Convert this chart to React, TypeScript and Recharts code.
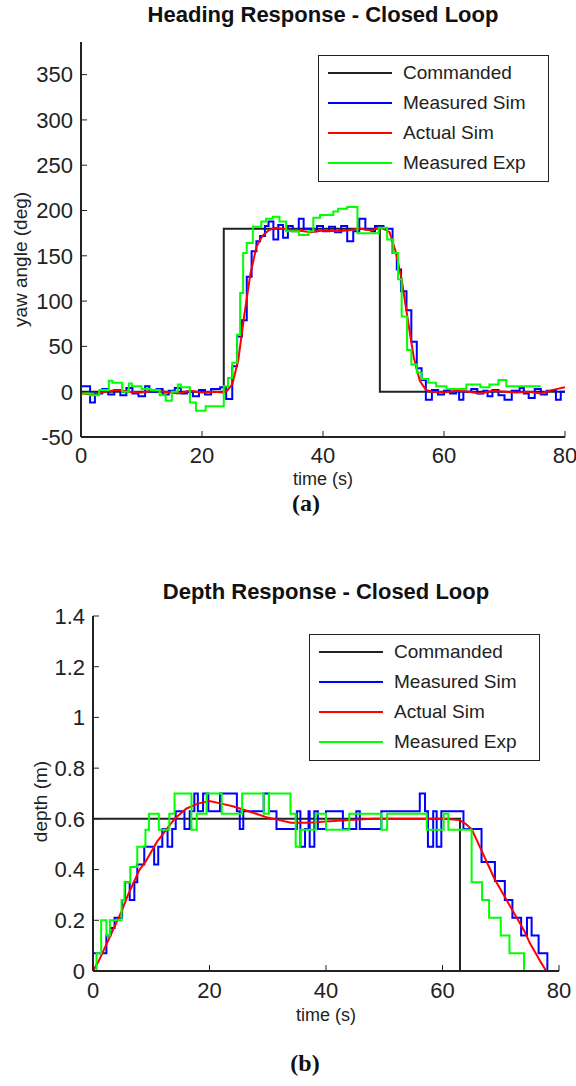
import React from 'react';
import { LineChart, Line, XAxis, YAxis, Legend, Label } from 'recharts';

const FONT = '"Liberation Sans", Arial, Helvetica, sans-serif';

// [time (s), value] pairs
const headingCommanded: [number, number][] = [
  [0, 0], [23.6, 0], [23.6, 180], [49.4, 180], [49.4, 0], [80, 0],
];
const headingMeasuredSim: [number, number][] = [
  [0, 6], [1.5, -12], [2.3, -2], [3.5, 3], [4.5, -3], [5.5, 2], [6.5, -4], [7.5, 4], [8.5, -2], [9.5, -5],
  [10.6, 6], [11.3, 0], [12.5, 3], [13.5, -3], [14.5, 1], [15.5, 4], [16.5, -2], [17.5, 0], [18.5, -5],
  [19.5, 2], [20.5, -3], [21.5, 3], [23, 5], [24, -8], [25, 28], [25.8, 61], [26.6, 79], [27.4, 127],
  [28.2, 155], [29, 166], [29.6, 172], [30.4, 183], [31, 188], [31.8, 168], [32.6, 184], [33.4, 170],
  [34.2, 183], [35, 177], [36, 191], [36.8, 180], [38, 177], [39, 183], [40, 177], [41, 182], [42, 176],
  [43, 183], [44, 166], [45, 177], [46, 191], [47, 179], [48, 177], [48.6, 183], [50, 180], [51.5, 153],
  [52.2, 135], [52.9, 111], [53.8, 90], [54.6, 55], [55.5, 26], [56.3, 13], [57, -9], [58, 2], [59, -3],
  [60, 1], [61, -2], [62, 2], [62.5, -9], [63.2, 0], [64.5, 3], [65.5, -2], [66.5, 1], [67.2, -5], [68, 2],
  [69, -4], [70, -9], [71.2, 1], [72.5, 4], [73.2, -2], [74, -7], [75, 3], [76, -3], [77, 1], [78.5, -9],
  [79.3, 0], [80, 0],
];
const headingActualSim: [number, number][] = [
  [0, -2], [2, -3], [4, 0], [6, 2], [8, 0], [10, -1], [12, 1], [14, 0], [16, -2], [18, 1], [20, -1],
  [22, 0], [23.5, -1], [24, 0], [25, 8], [26, 35], [27, 85], [28, 130], [29, 160], [30, 172], [31, 178],
  [32, 181], [34, 179], [36, 178], [38, 176], [40, 178], [42, 177], [44, 178], [46, 180], [48, 178],
  [49, 181], [50, 180], [51, 176], [52, 155], [53, 124], [54, 80], [55, 38], [56, 12], [57, 2], [58, 0],
  [60, -1], [62, 1], [64, 0], [66, -2], [68, 1], [70, 0], [72, -1], [74, 0], [76, -2], [78, 2], [80, 5],
];
const headingMeasuredExp: [number, number][] = [
  [0, -2], [1.5, -4], [3, 2], [4.6, 12], [5.2, 10], [6.8, 0], [7.9, 9], [8.4, 6], [10, 3], [11.5, 2],
  [13, -4], [14, -10], [15, 0], [16, 8], [16.5, 5], [18, -12], [19, -21], [20.6, -16], [23.6, 6],
  [24.3, 15], [25, 32], [25.8, 63], [26.3, 109], [26.8, 153], [27.4, 164], [28.4, 182], [29.8, 188],
  [30.6, 191], [31.7, 193], [32.8, 188], [33.9, 177], [36, 173], [37.6, 177], [38.4, 192], [39.5, 195],
  [41.7, 199], [42.5, 202], [44, 204], [45.7, 175], [49.2, 181], [50.6, 168], [51.6, 153], [52.4, 124],
  [53, 83], [53.9, 46], [54.6, 30], [55.5, 21], [56.3, 14], [57.4, 10], [58.7, 6], [60.4, 3], [63.7, 8],
  [66, 5], [67.5, 8], [69, 13], [70.3, 6], [76, 6],
];

const depthCommanded: [number, number][] = [
  [0, 0.6], [63, 0.6], [63, 0], [80, 0],
];
const depthMeasuredSim: [number, number][] = [
  [0, 0.07], [2.3, 0.14], [3, 0.17], [3.7, 0.21], [5, 0.28], [5.5, 0.35], [6.3, 0.28], [7.1, 0.35],
  [7.6, 0.42], [8.8, 0.49], [10.5, 0.42], [11.2, 0.49], [11.9, 0.56], [12.8, 0.49], [13.6, 0.56],
  [14.2, 0.63], [15.7, 0.56], [16.6, 0.63], [17.4, 0.7], [18, 0.63], [18.9, 0.7], [19.8, 0.63],
  [21.8, 0.7], [24.7, 0.63], [25.2, 0.56], [25.8, 0.63], [29.3, 0.7], [30.2, 0.63], [31.5, 0.56],
  [35, 0.63], [35.6, 0.49], [36.4, 0.56], [37, 0.63], [37.2, 0.49], [38, 0.63], [38.6, 0.56], [40, 0.63],
  [42.9, 0.56], [45.2, 0.63], [45.8, 0.56], [49.5, 0.63], [56.1, 0.7], [57, 0.63], [57.5, 0.49],
  [58.4, 0.63], [59, 0.49], [59.8, 0.63], [63.6, 0.56], [66.7, 0.43], [69, 0.355], [70.7, 0.28],
  [72, 0.21], [73.5, 0.14], [74.5, 0.21], [75.3, 0.14], [76.5, 0.07], [78, 0], [80, 0],
];
const depthActualSim: [number, number][] = [
  [0, 0], [1, 0.04], [2, 0.09], [3, 0.14], [4, 0.19], [5, 0.24], [6, 0.3], [7, 0.35], [8, 0.4], [9, 0.43],
  [10, 0.47], [11, 0.51], [12, 0.54], [13, 0.57], [14, 0.6], [15, 0.62], [16, 0.64], [17, 0.65],
  [18, 0.66], [20, 0.67], [22, 0.66], [24, 0.65], [26, 0.635], [28, 0.62], [30, 0.605], [32, 0.595],
  [34, 0.585], [37, 0.585], [40, 0.59], [44, 0.595], [48, 0.6], [52, 0.6], [56, 0.6], [60, 0.6],
  [63, 0.595], [64, 0.58], [65, 0.56], [66, 0.51], [67, 0.46], [68, 0.41], [69, 0.36], [70, 0.32],
  [71, 0.28], [72, 0.24], [73, 0.2], [74, 0.16], [75, 0.11], [76, 0.07], [77, 0.03], [77.8, 0], [80, 0],
];
const depthMeasuredExp: [number, number][] = [
  [0, 0], [0.6, 0.07], [1.4, 0.2], [2.3, 0.14], [2.9, 0.2], [4.9, 0.28], [5.4, 0.35], [6.4, 0.41],
  [7.6, 0.49], [9, 0.557], [9.6, 0.62], [11.3, 0.557], [13.1, 0.62], [14, 0.7], [16.9, 0.557],
  [17.8, 0.62], [19.5, 0.7], [22.1, 0.62], [25.6, 0.7], [29.3, 0.62], [30.2, 0.7], [33.9, 0.62],
  [34.8, 0.49], [35.6, 0.557], [38.2, 0.62], [40, 0.557], [44, 0.62], [49.5, 0.557], [50.5, 0.62],
  [57.3, 0.557], [60.2, 0.62], [61, 0.557], [65, 0.35], [66.8, 0.28], [68, 0.21], [70, 0.14],
  [71.5, 0.07], [74, 0], [76, 0],
];

const timeTicks = [0, 20, 40, 60, 80];
const headingTicks = [-50, 0, 50, 100, 150, 200, 250, 300, 350];
const depthTicks = [0, 0.2, 0.4, 0.6, 0.8, 1, 1.2, 1.4];

const seriesNames = ['Commanded', 'Measured Sim', 'Actual Sim', 'Measured Exp'];
const seriesColors = ['#222222', '#0000ff', '#ff0000', '#00ff00'];

const toPoints = (pairs: [number, number][]) => pairs.map(([t, v]) => ({ t, v }));

const tickStyle = { fontSize: 22, fill: '#222', fontFamily: FONT };

const MatlabLegend = ({ payload }: any) => {
  const items = [...(payload || [])].sort(
    (a: any, b: any) => seriesNames.indexOf(a.value) - seriesNames.indexOf(b.value),
  );
  return (
    <div
      style={{
        boxSizing: 'border-box',
        width: 231,
        height: 127,
        border: '1px solid #222',
        background: '#fff',
        paddingTop: 2,
        fontFamily: FONT,
      }}
    >
      {items.map((p: any) => (
        <div key={p.value} style={{ display: 'flex', alignItems: 'center', height: 30 }}>
          <div style={{ marginLeft: 9, width: 64, borderTop: `2px solid ${p.color}` }} />
          <span style={{ marginLeft: 11, fontSize: 19, color: '#222' }}>{p.value}</span>
        </div>
      ))}
    </div>
  );
};

interface PanelProps {
  series: [number, number][][];
  yTicks: number[];
  yDomain: [number, number];
  yLabel: string;
  yLabelX: number;
  yLabelDy: number;
  width: number;
  height: number;
  margin: { top: number; right: number; bottom: number; left: number };
  yAxisWidth: number;
  xAxisHeight: number;
  xTickMargin: number;
  xLabelOffset: number;
  legendPos: { left: number; top: number };
}

const Panel = (p: PanelProps) => (
  <LineChart width={p.width} height={p.height} margin={p.margin}>
    <XAxis
      dataKey="t"
      type="number"
      domain={[0, 80]}
      ticks={timeTicks}
      allowDataOverflow
      height={p.xAxisHeight}
      tickSize={-6}
      tickMargin={p.xTickMargin}
      tick={tickStyle}
      stroke="#222"
      axisLine={{ stroke: '#222', strokeWidth: 2 }}
    >
      <Label
        value="time (s)"
        position="insideTop"
        offset={p.xLabelOffset}
        style={{ fontSize: 18, fill: '#222', fontFamily: FONT }}
      />
    </XAxis>
    <XAxis
      xAxisId="top"
      orientation="top"
      type="number"
      domain={[0, 80]}
      ticks={timeTicks}
      allowDataOverflow
      height={0}
      tickSize={-6}
      tickFormatter={() => ''}
      stroke="#222"
      axisLine={{ stroke: '#222', strokeWidth: 2 }}
    />
    <YAxis
      type="number"
      domain={p.yDomain}
      ticks={p.yTicks}
      allowDataOverflow
      width={p.yAxisWidth}
      tickSize={-6}
      tickMargin={14}
      tick={tickStyle}
      stroke="#222"
      axisLine={{ stroke: '#222', strokeWidth: 2 }}
    >
      <Label
        value={p.yLabel}
        angle={-90}
        position="insideLeft"
        offset={p.yLabelX}
        dy={p.yLabelDy}
        style={{ fontSize: 19, fill: '#222', fontFamily: FONT, textAnchor: 'middle' }}
      />
    </YAxis>
    <YAxis
      yAxisId="right"
      orientation="right"
      type="number"
      domain={p.yDomain}
      ticks={p.yTicks}
      allowDataOverflow
      width={0}
      tickSize={-6}
      tickFormatter={() => ''}
      stroke="#222"
      axisLine={{ stroke: '#222', strokeWidth: 2 }}
    />
    <Legend
      layout="vertical"
      align="center"
      verticalAlign="middle"
      wrapperStyle={{ left: p.legendPos.left, top: p.legendPos.top, width: 231 }}
      content={<MatlabLegend />}
    />
    {p.series.map((s, i) => (
      <Line
        key={seriesNames[i]}
        name={seriesNames[i]}
        data={toPoints(s)}
        dataKey="v"
        type={i === 1 || i === 3 ? 'stepAfter' : 'linear'}
        stroke={seriesColors[i]}
        strokeWidth={2}
        dot={false}
        activeDot={false}
        isAnimationActive={false}
      />
    ))}
  </LineChart>
);

const titleStyle: React.CSSProperties = {
  position: 'absolute',
  fontFamily: FONT,
  fontWeight: 'bold',
  fontSize: 22,
  lineHeight: '26px',
  textAlign: 'center',
  color: '#111',
};

const captionStyle: React.CSSProperties = {
  position: 'absolute',
  fontFamily: '"Liberation Serif", "Times New Roman", serif',
  fontWeight: 'bold',
  fontSize: 24,
  lineHeight: '28px',
  textAlign: 'center',
  width: 80,
  color: '#111',
};

export default function App() {
  return (
    <div style={{ position: 'absolute', left: 0, top: 0, width: 576, height: 1086, background: '#fff' }}>
      <div style={{ ...titleStyle, left: 81, top: 2, width: 484 }}>Heading Response - Closed Loop</div>
      <div style={{ position: 'absolute', left: 0, top: 0 }}>
        <Panel
          series={[headingCommanded, headingMeasuredSim, headingActualSim, headingMeasuredExp]}
          yTicks={headingTicks}
          yDomain={[-50, 386]}
          yLabel="yaw angle (deg)"
          yLabelX={20}
          yLabelDy={20}
          width={576}
          height={500}
          margin={{ top: 42, right: 11, bottom: 0, left: 0 }}
          yAxisWidth={81}
          xAxisHeight={63}
          xTickMargin={16}
          xLabelOffset={35}
          legendPos={{ left: 318, top: 55 }}
        />
      </div>
      <div style={{ ...captionStyle, left: 266, top: 489 }}>(a)</div>

      <div style={{ ...titleStyle, left: 93, top: 579, width: 466 }}>Depth Response - Closed Loop</div>
      <div style={{ position: 'absolute', left: 0, top: 560 }}>
        <Panel
          series={[depthCommanded, depthMeasuredSim, depthActualSim, depthMeasuredExp]}
          yTicks={depthTicks}
          yDomain={[0, 1.4]}
          yLabel="depth (m)"
          yLabelX={40}
          yLabelDy={8}
          width={576}
          height={470}
          margin={{ top: 56, right: 17, bottom: 0, left: 0 }}
          yAxisWidth={93}
          xAxisHeight={59}
          xTickMargin={17}
          xLabelOffset={37}
          legendPos={{ left: 309, top: 74 }}
        />
      </div>
      <div style={{ ...captionStyle, left: 265, top: 1049 }}>(b)</div>
    </div>
  );
}
